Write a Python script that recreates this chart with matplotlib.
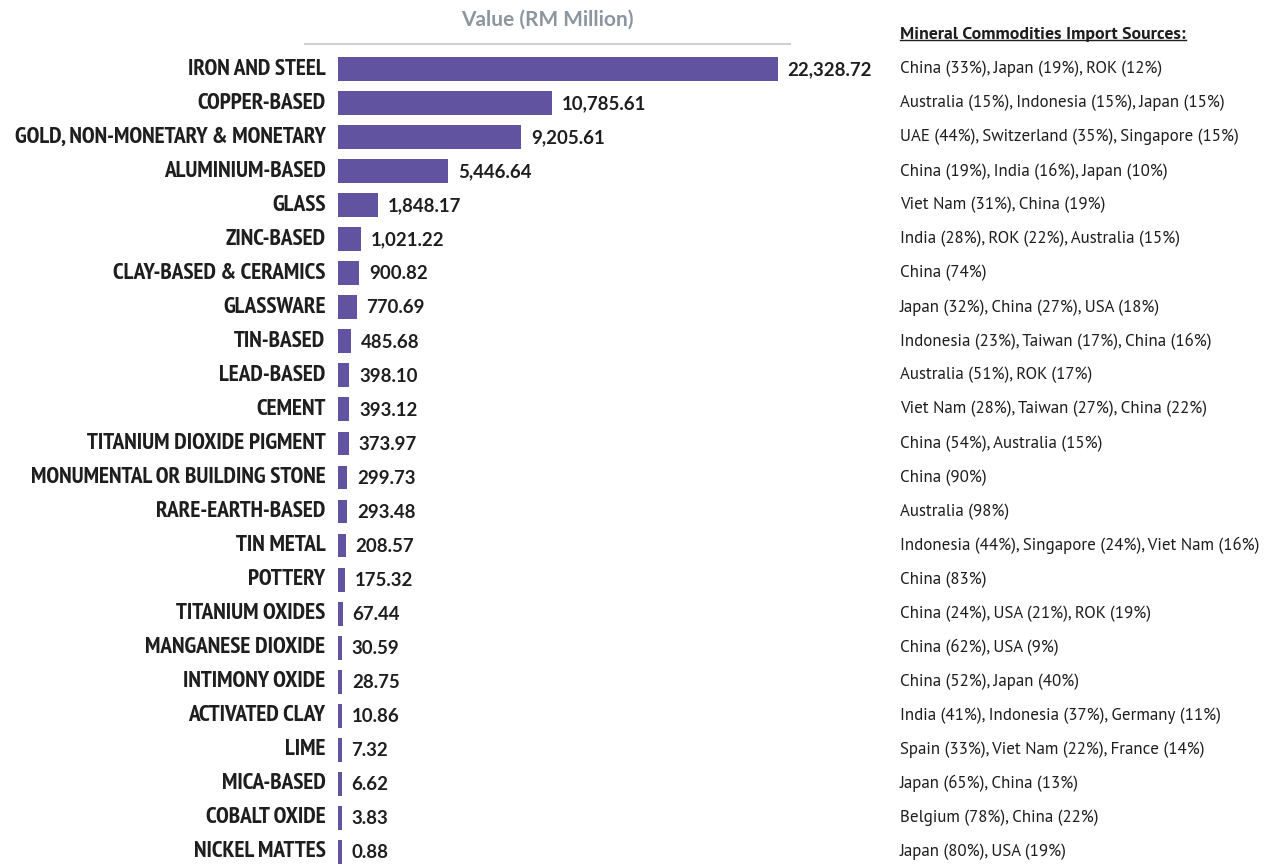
import matplotlib
matplotlib.use("Agg")
import matplotlib.pyplot as plt
from matplotlib.lines import Line2D

# data
categories = [
    "IRON AND STEEL", "COPPER-BASED", "GOLD, NON-MONETARY & MONETARY",
    "ALUMINIUM-BASED", "GLASS", "ZINC-BASED", "CLAY-BASED & CERAMICS",
    "GLASSWARE", "TIN-BASED", "LEAD-BASED", "CEMENT",
    "TITANIUM DIOXIDE PIGMENT", "MONUMENTAL OR BUILDING STONE",
    "RARE-EARTH-BASED", "TIN METAL", "POTTERY", "TITANIUM OXIDES",
    "MANGANESE DIOXIDE", "INTIMONY OXIDE", "ACTIVATED CLAY", "LIME",
    "MICA-BASED", "COBALT OXIDE", "NICKEL MATTES",
]
values = [
    22328.72, 10785.61, 9205.61, 5446.64, 1848.17, 1021.22, 900.82,
    770.69, 485.68, 398.10, 393.12, 373.97, 299.73, 293.48, 208.57,
    175.32, 67.44, 30.59, 28.75, 10.86, 7.32, 6.62, 3.83, 0.88,
]
sources = [
    "China (33%), Japan (19%), ROK (12%)",
    "Australia (15%), Indonesia (15%), Japan (15%)",
    "UAE (44%), Switzerland (35%), Singapore (15%)",
    "China (19%), India (16%), Japan (10%)",
    "Viet Nam (31%), China (19%)",
    "India (28%), ROK (22%), Australia (15%)",
    "China (74%)",
    "Japan (32%), China (27%), USA (18%)",
    "Indonesia (23%), Taiwan (17%), China (16%)",
    "Australia (51%), ROK (17%)",
    "Viet Nam (28%), Taiwan (27%), China (22%)",
    "China (54%), Australia (15%)",
    "China (90%)",
    "Australia (98%)",
    "Indonesia (44%), Singapore (24%), Viet Nam (16%)",
    "China (83%)",
    "China (24%), USA (21%), ROK (19%)",
    "China (62%), USA (9%)",
    "China (52%), Japan (40%)",
    "India (41%), Indonesia (37%), Germany (11%)",
    "Spain (33%), Viet Nam (22%), France (14%)",
    "Japan (65%), China (13%)",
    "Belgium (78%), China (22%)",
    "Japan (80%), USA (19%)",
]

W, H = 1272, 865
BAR = "#6153a0"
DARK = "#1e1e1e"
NARROW = ["PT Sans Narrow", "DejaVu Sans"]
SRCF = ["PT Sans", "DejaVu Sans"]
NUMF = ["Lato", "DejaVu Sans"]

fig = plt.figure(figsize=(W / 100, H / 100), dpi=100)
fig.patch.set_facecolor("white")
renderer = fig.canvas.get_renderer()


def fit_size(text, target_px, **kw):
    # font size that makes `text` about target_px wide
    t = fig.text(0, 0, text, fontsize=10, **kw)
    w = t.get_window_extent(renderer=renderer).width
    t.remove()
    return 10 * target_px / w


cat_fs = fit_size(categories[2], 312, family=NARROW, fontweight="bold")
src_fs = fit_size(sources[14], 360, family=SRCF)
hdr_fs = fit_size("Mineral Commodities Import Sources:", 286, family=SRCF, fontweight="bold")
ttl_fs = fit_size("Value (RM Million)", 173, family=NUMF, fontweight="bold")

# axes placed in pixels: bars start at x=338, longest ends at x=778
x0, x1 = 338, 778
y_top = 52
ax = fig.add_axes([x0 / W, 0, (x1 - x0) / W, (H - y_top) / H])
pitch = 34.04
n = len(categories)
ax.set_ylim((H - 69) / pitch, -0.5)

# small bars keep a minimum visible width (as in the source graphic)
stub = 180
ax.set_xlim(-stub, values[0])
ax.axis("off")

ypos = list(range(n))
ax.barh(ypos, [v + stub for v in values], left=-stub, height=0.70,
        color=BAR, edgecolor="none")

for i, (cat, v, src) in enumerate(zip(categories, values, sources)):
    ax.annotate(cat, xy=(-stub, i), xytext=(-9, 0), textcoords="offset points",
                ha="right", va="center", fontsize=cat_fs, fontweight="bold",
                family=NARROW, color=DARK, annotation_clip=False)
    ax.annotate(f"{v:,.2f}", xy=(v, i), xytext=(7, -0.5), textcoords="offset points",
                ha="left", va="center", fontsize=13.4, fontweight="bold",
                family=NUMF, color=DARK, annotation_clip=False)
    ax.text(900 / W, 1 - (69 + pitch * i) / H, src, transform=fig.transFigure,
            ha="left", va="center", fontsize=src_fs, family=SRCF, color=DARK)

# title and rule above the bars
fig.text(547 / W, 1 - 20 / H, "Value (RM Million)", ha="center", va="center",
         fontsize=ttl_fs, fontweight="bold", family=NUMF, color="#8c969e")
fig.add_artist(Line2D([305 / W, 790 / W], [1 - 44 / H, 1 - 44 / H],
                      color="#cfcfcf", lw=1.5, transform=fig.transFigure))

# underlined header for the sources column
hdr = fig.text(900 / W, 1 - 35 / H, "Mineral Commodities Import Sources:",
               ha="left", va="center", fontsize=hdr_fs, fontweight="bold",
               family=SRCF, color=DARK)
fig.canvas.draw()
bb = hdr.get_window_extent().transformed(fig.transFigure.inverted())
fig.add_artist(Line2D([bb.x0, bb.x1], [bb.y0 + 0.003, bb.y0 + 0.003],
                      color=DARK, lw=1.0, transform=fig.transFigure))

fig.savefig("out.png", dpi=100, facecolor="white")
